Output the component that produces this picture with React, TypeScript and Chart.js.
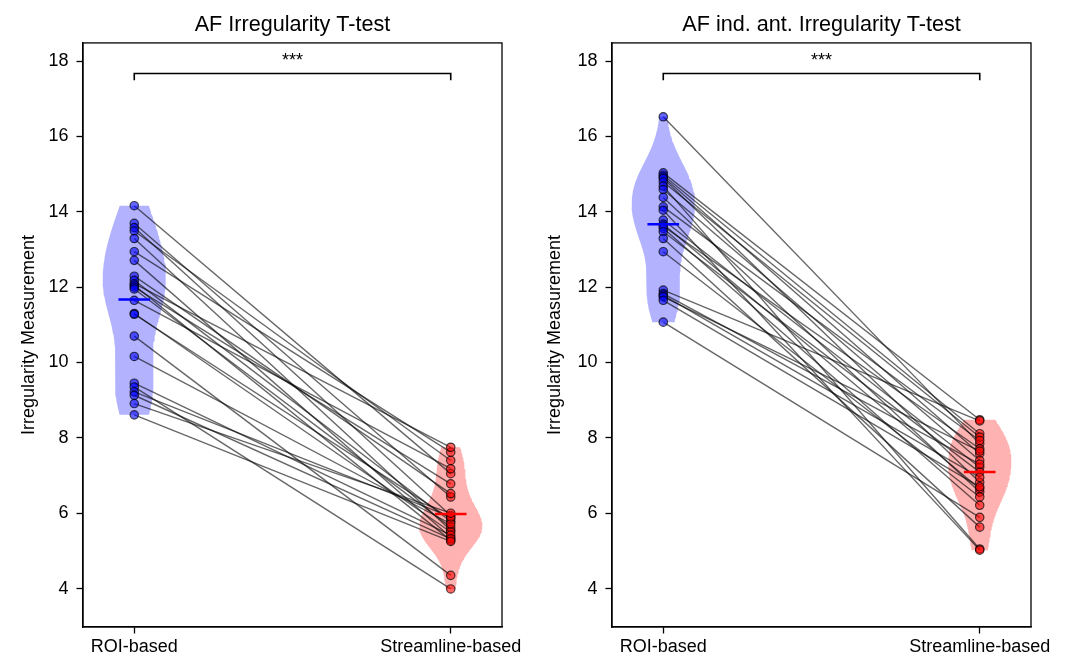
import React, { useEffect, useRef } from "react";
import { Chart, registerables } from "chart.js";
Chart.register(...registerables);

const FONT = '"Liberation Sans", Arial, Helvetica, sans-serif';

const categories = ["ROI-based", "Streamline-based"];
const yTickValues = [4, 6, 8, 10, 12, 14, 16, 18];
const titles = ["AF Irregularity T-test", "AF ind. ant. Irregularity T-test"];
const yAxisTitle = "Irregularity Measurement";

// Panel 1: AF (paired values, same index = same subject)
const afRoi = [14.16, 13.69, 13.58, 13.49, 13.29, 12.94, 12.71, 12.29, 12.18, 12.09, 12.05, 12.0,
  11.95, 11.65, 11.3, 11.28, 10.7, 10.16, 9.45, 9.35, 9.22, 9.13, 8.91, 8.61];
const afStream = [7.05, 6.43, 5.94, 7.4, 5.55, 7.62, 5.36, 6.52, 5.78, 7.75, 5.28, 6.78,
  5.63, 7.18, 5.5, 5.85, 4.35, 5.72, 5.42, 3.99, 5.9, 5.32, 6.0, 5.25];
const afMeans = [11.67, 5.98];

// Panel 2: AF ind. ant.
const antRoi = [16.52, 15.03, 14.97, 14.92, 14.88, 14.79, 14.68, 14.59, 14.38, 14.13, 14.04, 13.78,
  13.67, 13.62, 13.56, 13.47, 13.29, 12.94, 11.92, 11.83, 11.78, 11.74, 11.65, 11.07];
const antStream = [7.84, 8.48, 8.11, 7.58, 6.82, 8.02, 5.05, 7.4, 6.56, 7.93, 5.02, 7.22,
  6.65, 7.71, 6.21, 7.09, 5.63, 6.43, 8.45, 7.3, 6.95, 7.65, 6.7, 5.89];
const antMeans = [13.67, 7.09];

const sigLabel = "***";
const sigBarY = 17.67;
const sigTickY = 17.49;
const yMin = 2.98;
const yMax = 18.48;
const xMin = -0.162;
const xMax = 1.162;

function violinOutline(values: number[], pos: number, halfWidth = 0.1, n = 100) {
  const N = values.length;
  const mean = values.reduce((a, b) => a + b, 0) / N;
  const sd = Math.sqrt(values.reduce((a, b) => a + (b - mean) ** 2, 0) / (N - 1));
  const bw = sd * Math.pow(N, -1 / 5);
  const lo = Math.min(...values);
  const hi = Math.max(...values);
  const ys: number[] = [];
  const ds: number[] = [];
  for (let i = 0; i < n; i++) {
    const y = lo + ((hi - lo) * i) / (n - 1);
    ys.push(y);
    let d = 0;
    for (const v of values) d += Math.exp(-0.5 * ((y - v) / bw) ** 2);
    ds.push(d);
  }
  const m = Math.max(...ds);
  const right = ys.map((y, i) => ({ x: pos + (halfWidth * ds[i]) / m, y }));
  const left = ys.map((y, i) => ({ x: pos - (halfWidth * ds[i]) / m, y })).reverse();
  return [...right, ...left, right[0]];
}

function buildDatasets(roi: number[], stream: number[], means: number[]) {
  const ds: any[] = [];
  means.forEach((m, i) => {
    ds.push({
      type: "line",
      data: [{ x: i - 0.05, y: m }, { x: i + 0.05, y: m }],
      borderColor: i === 0 ? "#0000ff" : "#ff0000",
      borderWidth: 2.5,
      pointRadius: 0,
      fill: false,
      order: -1,
    });
  });
  ds.push({
    type: "scatter",
    data: roi.map((v) => ({ x: 0, y: v })),
    backgroundColor: "rgba(0,0,255,0.6)",
    borderColor: "rgba(0,0,0,0.7)",
    borderWidth: 1.2,
    pointRadius: 4.2,
    order: 0,
  });
  ds.push({
    type: "scatter",
    data: stream.map((v) => ({ x: 1, y: v })),
    backgroundColor: "rgba(255,0,0,0.6)",
    borderColor: "rgba(0,0,0,0.7)",
    borderWidth: 1.2,
    pointRadius: 4.2,
    order: 0,
  });
  roi.forEach((r, i) => {
    ds.push({
      type: "line",
      data: [{ x: 0, y: r }, { x: 1, y: stream[i] }],
      borderColor: "rgba(0,0,0,0.6)",
      borderWidth: 1.4,
      pointRadius: 0,
      fill: false,
      order: 1,
    });
  });
  ds.push({
    type: "line",
    data: [{ x: 0, y: sigTickY }, { x: 0, y: sigBarY }, { x: 1, y: sigBarY }, { x: 1, y: sigTickY }],
    borderColor: "#000",
    borderWidth: 1.6,
    pointRadius: 0,
    fill: false,
    order: 1,
  });
  ds.push({
    type: "line",
    data: violinOutline(roi, 0),
    borderWidth: 0,
    borderColor: "rgba(0,0,0,0)",
    backgroundColor: "rgba(0,0,255,0.3)",
    fill: "shape",
    pointRadius: 0,
    tension: 0,
    order: 2,
  });
  ds.push({
    type: "line",
    data: violinOutline(stream, 1),
    borderWidth: 0,
    borderColor: "rgba(0,0,0,0)",
    backgroundColor: "rgba(255,0,0,0.3)",
    fill: "shape",
    pointRadius: 0,
    tension: 0,
    order: 2,
  });
  return ds;
}

const framePlugin = {
  id: "frame",
  afterDraw(chart: any) {
    const { ctx, chartArea } = chart;
    const { left, top, right, bottom } = chartArea;
    ctx.save();
    ctx.strokeStyle = "#000";
    ctx.lineWidth = 1.3;
    ctx.strokeRect(left, top, right - left, bottom - top);
    ctx.restore();
  },
};

const sigTextPlugin = {
  id: "sigText",
  afterDatasetsDraw(chart: any) {
    const { ctx, scales } = chart;
    const x = scales.x.getPixelForValue(0.5);
    const y = scales.y.getPixelForValue(sigBarY) - 7;
    ctx.save();
    ctx.fillStyle = "#000";
    ctx.font = `18px ${FONT}`;
    ctx.textAlign = "center";
    ctx.textBaseline = "alphabetic";
    ctx.fillText(sigLabel, x, y);
    ctx.restore();
  },
};

const panelLayout = [
  { axisWidth: 83, padRight: 31, ytPad: 18 },
  { axisWidth: 79, padRight: 35, ytPad: 11 },
];

function makeConfig(idx: number): any {
  const roi = idx === 0 ? afRoi : antRoi;
  const stream = idx === 0 ? afStream : antStream;
  const means = idx === 0 ? afMeans : antMeans;
  const L = panelLayout[idx];
  return {
    type: "scatter",
    data: { datasets: buildDatasets(roi, stream, means) },
    options: {
      responsive: false,
      animation: false,
      devicePixelRatio: 1,
      layout: { padding: { left: 0, right: L.padRight, top: 0, bottom: 0 } },
      plugins: {
        legend: { display: false },
        tooltip: { enabled: false },
        title: {
          display: true,
          text: titles[idx],
          fullSize: false,
          color: "#000",
          font: { size: 21.6, family: FONT, weight: "normal" },
          padding: { top: 12, bottom: 5 },
        },
      },
      scales: {
        x: {
          type: "linear",
          min: xMin,
          max: xMax,
          afterBuildTicks: (s: any) => {
            s.ticks = categories.map((_, i) => ({ value: i }));
          },
          afterFit: (s: any) => {
            s.height = 30;
          },
          ticks: {
            callback: (v: any) => categories[v] ?? "",
            color: "#000",
            font: { size: 18, family: FONT },
            padding: 3,
            maxRotation: 0,
            autoSkip: false,
          },
          grid: {
            display: true,
            drawOnChartArea: false,
            drawTicks: true,
            tickLength: 6.5,
            tickWidth: 1.3,
            tickColor: "#000",
          },
          border: { display: true, color: "#000", width: 1.3 },
        },
        y: {
          type: "linear",
          min: yMin,
          max: yMax,
          afterBuildTicks: (s: any) => {
            s.ticks = yTickValues.map((v) => ({ value: v }));
          },
          afterFit: (s: any) => {
            s.width = L.axisWidth;
          },
          ticks: {
            color: "#000",
            font: { size: 18, family: FONT },
            padding: 8,
          },
          grid: {
            display: true,
            drawOnChartArea: false,
            drawTicks: true,
            tickLength: 6.5,
            tickWidth: 1.3,
            tickColor: "#000",
          },
          border: { display: true, color: "#000", width: 1.3 },
          title: {
            display: true,
            text: yAxisTitle,
            color: "#000",
            font: { size: 18, family: FONT },
            padding: { top: L.ytPad, bottom: 0 },
          },
        },
      },
    },
    plugins: [framePlugin, sigTextPlugin],
  };
}

function Panel({ idx, left }: { idx: number; left: number }) {
  const ref = useRef<HTMLCanvasElement | null>(null);
  useEffect(() => {
    if (!ref.current) return;
    const chart = new Chart(ref.current, makeConfig(idx));
    return () => chart.destroy();
  }, [idx]);
  return (
    <canvas
      ref={ref}
      width={533}
      height={657}
      style={{ position: "absolute", left, top: 0, width: 533, height: 657 }}
    />
  );
}

export default function App() {
  return (
    <div
      style={{
        position: "absolute",
        left: 0,
        top: 0,
        width: 1066,
        height: 657,
        background: "#fff",
        overflow: "hidden",
      }}
    >
      <Panel idx={0} left={0} />
      <Panel idx={1} left={533} />
    </div>
  );
}
